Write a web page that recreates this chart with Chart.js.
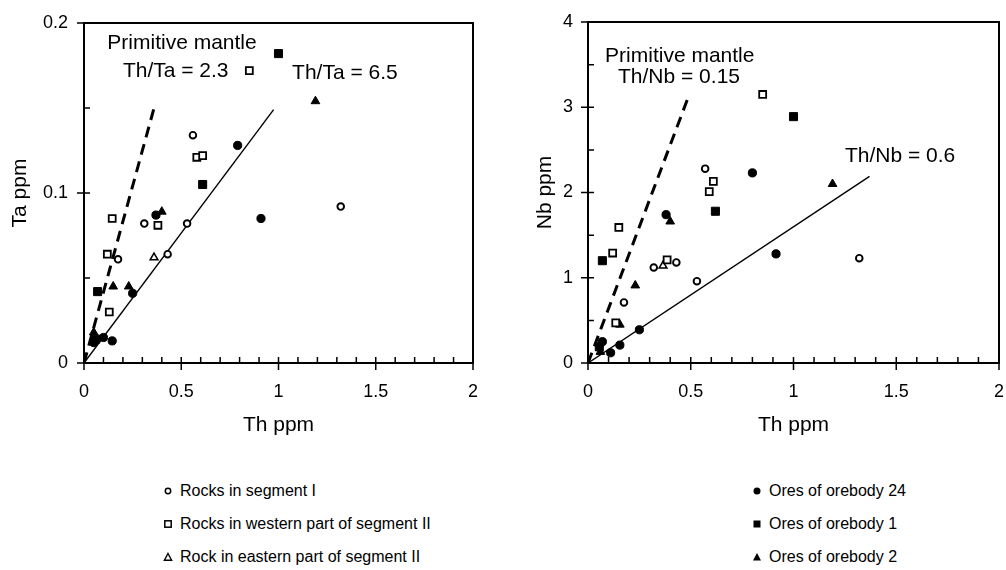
<!DOCTYPE html>
<html>
<head>
<meta charset="utf-8">
<script src="https://cdn.jsdelivr.net/npm/chart.js@4.4.1/dist/chart.umd.min.js"></script>
<style>
  body { margin: 0; background: #fff; width: 1006px; height: 570px; position: relative; overflow: hidden;
         font-family: "Liberation Sans", Arial, sans-serif; color: #000; }
  #taChart { position: absolute; left: 0; top: 0; }
  #nbChart { position: absolute; left: 525px; top: 0; }
  .item { position: absolute; font-size: 16px; line-height: 20px; white-space: nowrap; }
  .item svg { position: absolute; left: -17px; top: 5px; }
</style>
</head>
<body>
<canvas id="taChart" width="490" height="450"></canvas>
<canvas id="nbChart" width="481" height="450"></canvas>
<div id="legend"></div>

<script>
// Th vs Ta (left plot)
const seg1Th  = [0.56, 0.31, 0.53, 0.175, 0.43, 1.32];
const seg1Ta  = [0.134, 0.082, 0.082, 0.061, 0.064, 0.092];
const westTh  = [0.85, 0.58, 0.61, 0.145, 0.38, 0.12, 0.13];
const westTa  = [0.172, 0.121, 0.122, 0.085, 0.081, 0.064, 0.030];
const eastTh  = [0.36];
const eastTa  = [0.062];
const ore24Th = [0.79, 0.91, 0.37, 0.25, 0.05, 0.10, 0.145];
const ore24Ta = [0.128, 0.085, 0.087, 0.041, 0.012, 0.015, 0.013];
const ore1Th  = [1.0, 0.61, 0.07, 0.06];
const ore1Ta  = [0.182, 0.105, 0.042, 0.014];
const ore2Th  = [1.19, 0.40, 0.15, 0.23, 0.05];
const ore2Ta  = [0.154, 0.089, 0.045, 0.045, 0.018];

// Th vs Nb (right plot)
const seg1ThN  = [0.57, 0.32, 0.53, 0.175, 0.43, 1.32];
const seg1Nb   = [2.28, 1.12, 0.96, 0.71, 1.18, 1.23];
const westThN  = [0.85, 0.59, 0.61, 0.15, 0.385, 0.12, 0.135];
const westNb   = [3.15, 2.01, 2.13, 1.59, 1.21, 1.29, 0.47];
const eastThN  = [0.365];
const eastNb   = [1.14];
const ore24ThN = [0.80, 0.915, 0.38, 0.25, 0.07, 0.11, 0.155];
const ore24Nb  = [2.23, 1.28, 1.74, 0.39, 0.25, 0.12, 0.21];
const ore1ThN  = [1.0, 0.62, 0.07, 0.055];
const ore1Nb   = [2.89, 1.78, 1.20, 0.19];
const ore2ThN  = [1.19, 0.40, 0.23, 0.155, 0.06];
const ore2Nb   = [2.10, 1.66, 0.91, 0.45, 0.13];

// reference lines, end points
const taDashEnd  = [0.365, 0.152];   // primitive mantle Th/Ta = 2.3
const taSolidEnd = [0.975, 0.149];   // Th/Ta = 6.5
const nbDashEnd  = [0.485, 3.1];     // primitive mantle Th/Nb = 0.15
const nbSolidEnd = [1.37, 2.19];     // Th/Nb = 0.6

const groupNames = ['Rocks in segment I', 'Rocks in western part of segment II', 'Rock in eastern part of segment II',
                    'Ores of orebody 24', 'Ores of orebody 1', 'Ores of orebody 2'];

const FONT = '"Liberation Sans", Arial, sans-serif';
Chart.defaults.font.family = FONT;
Chart.defaults.color = '#000';

function pts(xs, ys) { return xs.map((v, i) => ({x: v, y: ys[i]})); }

const styles = [
  {pointStyle: 'circle',   pointRadius: 3.3, pointBorderWidth: 1.9, pointBackgroundColor: '#fff'},
  {pointStyle: 'rect',     pointRadius: 4.9, pointBorderWidth: 1.8, pointBackgroundColor: '#fff'},
  {pointStyle: 'triangle', pointRadius: 4.5, pointBorderWidth: 1.5, pointBackgroundColor: '#fff'},
  {pointStyle: 'circle',   pointRadius: 4.1, pointBorderWidth: 1,   pointBackgroundColor: '#000'},
  {pointStyle: 'rect',     pointRadius: 5.7, pointBorderWidth: 1,   pointBackgroundColor: '#000'},
  {pointStyle: 'triangle', pointRadius: 5,   pointBorderWidth: 1,   pointBackgroundColor: '#000'}
];

function pointSets(groups) {
  return groups.map((g, i) => Object.assign({
    label: groupNames[i], data: g, pointBorderColor: '#000', order: 0
  }, styles[i]));
}

function lineSet(end, dashed) {
  return {
    data: [{x: 0, y: 0}, {x: end[0], y: end[1]}],
    showLine: true, pointRadius: 0, borderColor: '#000',
    borderWidth: dashed ? 3 : 1.4, borderDash: dashed ? [11, 7] : [], order: 1
  };
}

function near(v, step) { return Math.abs(v / step - Math.round(v / step)) < 1e-6; }

// frame, crossing major ticks, inner minor ticks and the text notes
const framePlugin = {
  id: 'frame',
  afterDraw(chart, args, opts) {
    const {ctx, chartArea: a, scales: {x, y}} = chart;
    ctx.save();
    ctx.strokeStyle = '#000';
    ctx.lineWidth = 2;
    ctx.strokeRect(a.left, a.top, a.right - a.left, a.bottom - a.top);
    ctx.lineWidth = 1.5;
    ctx.beginPath();
    x.ticks.forEach(t => {
      const px = x.getPixelForValue(t.value);
      if (near(t.value, 0.5)) { ctx.moveTo(px, a.bottom - 6); ctx.lineTo(px, a.bottom + 7); }
      else { ctx.moveTo(px, a.bottom); ctx.lineTo(px, a.bottom - 6); }
    });
    y.ticks.forEach(t => {
      const py = y.getPixelForValue(t.value);
      if (near(t.value, opts.yMajor)) { ctx.moveTo(a.left - 7, py); ctx.lineTo(a.left + 6, py); }
      else { ctx.moveTo(a.left, py); ctx.lineTo(a.left + 6, py); }
    });
    ctx.stroke();
    ctx.fillStyle = '#000';
    ctx.font = '21px ' + FONT;
    ctx.textBaseline = 'alphabetic';
    opts.notes.forEach(n => ctx.fillText(n.text, x.getPixelForValue(n.x), y.getPixelForValue(n.y)));
    ctx.restore();
  }
};

// label offsets go through grid.tickLength (ticks hidden) so the layout padding stays untouched
function makeChart(id, datasets, yMax, yStep, yMajor, yTitle, yWidth, yGap, padding, notes) {
  return new Chart(document.getElementById(id), {
    type: 'scatter',
    data: {datasets: datasets},
    options: {
      responsive: false, animation: false, events: [],
      layout: {padding: padding},
      plugins: {legend: {display: false}, tooltip: {enabled: false}, frame: {notes: notes, yMajor: yMajor}},
      scales: {
        x: {
          type: 'linear', min: 0, max: 2,
          grid: {display: false, drawTicks: true, tickLength: 18},
          border: {display: false},
          ticks: {stepSize: 0.1, autoSkip: false, maxRotation: 0, padding: 0, font: {size: 18},
                  callback: v => near(v, 0.5) ? String(+v.toFixed(2)) : ''},
          title: {display: true, text: 'Th ppm', font: {size: 21}, padding: {top: 0, bottom: 12}},
          afterFit: s => { s.height = 450 - 363; }
        },
        y: {
          type: 'linear', min: 0, max: yMax,
          grid: {display: false, drawTicks: true, tickLength: yGap},
          border: {display: false},
          ticks: {stepSize: yStep, autoSkip: false, padding: 0, font: {size: 18},
                  callback: v => near(v, yMajor) ? String(+v.toFixed(2)) : ''},
          title: {display: true, text: yTitle, font: {size: 21}, padding: {top: 8, bottom: 0}},
          afterFit: s => { s.width = yWidth; }
        }
      }
    },
    plugins: [framePlugin]
  });
}

makeChart('taChart',
  pointSets([pts(seg1Th, seg1Ta), pts(westTh, westTa), pts(eastTh, eastTa),
             pts(ore24Th, ore24Ta), pts(ore1Th, ore1Ta), pts(ore2Th, ore2Ta)])
    .concat([lineSet(taDashEnd, true), lineSet(taSolidEnd, false)]),
  0.2, 0.05, 0.1, 'Ta ppm', 84, 16, {top: 23, right: 17, left: 0, bottom: 0},
  [{text: 'Primitive mantle', x: 0.12, y: 0.1847},
   {text: 'Th/Ta = 2.3', x: 0.2, y: 0.1682},
   {text: 'Th/Ta = 6.5', x: 1.07, y: 0.167}]);

makeChart('nbChart',
  pointSets([pts(seg1ThN, seg1Nb), pts(westThN, westNb), pts(eastThN, eastNb),
             pts(ore24ThN, ore24Nb), pts(ore1ThN, ore1Nb), pts(ore2ThN, ore2Nb)])
    .concat([lineSet(nbDashEnd, true), lineSet(nbSolidEnd, false)]),
  4, 0.5, 1, 'Nb ppm', 63, 15, {top: 22, right: 7, left: 0, bottom: 0},
  [{text: 'Primitive mantle', x: 0.083, y: 3.53},
   {text: 'Th/Nb = 0.15', x: 0.146, y: 3.29},
   {text: 'Th/Nb = 0.6', x: 1.25, y: 2.36}]);

// legend under the plots, two columns of three
const markers = [
  '<circle cx="5" cy="5" r="2.7" fill="#fff" stroke="#000" stroke-width="1.5"/>',
  '<rect x="1.8" y="1.8" width="6.4" height="6.4" fill="#fff" stroke="#000" stroke-width="1.5"/>',
  '<polygon points="5,1.5 8.6,8.2 1.4,8.2" fill="#fff" stroke="#000" stroke-width="1.4"/>',
  '<circle cx="5" cy="5" r="3.5" fill="#000"/>',
  '<rect x="1.5" y="1.5" width="7" height="7" fill="#000"/>',
  '<polygon points="5,1 9,8.6 1,8.6" fill="#000"/>'
];
const legendX = [180, 769];
const legendY = [481, 514, 547];
const legend = document.getElementById('legend');
groupNames.forEach((name, i) => {
  const d = document.createElement('div');
  d.className = 'item';
  d.style.left = legendX[Math.floor(i / 3)] + 'px';
  d.style.top = legendY[i % 3] + 'px';
  d.innerHTML = '<svg width="10" height="10">' + markers[i] + '</svg>' + name;
  legend.appendChild(d);
});
</script>
</body>
</html>
